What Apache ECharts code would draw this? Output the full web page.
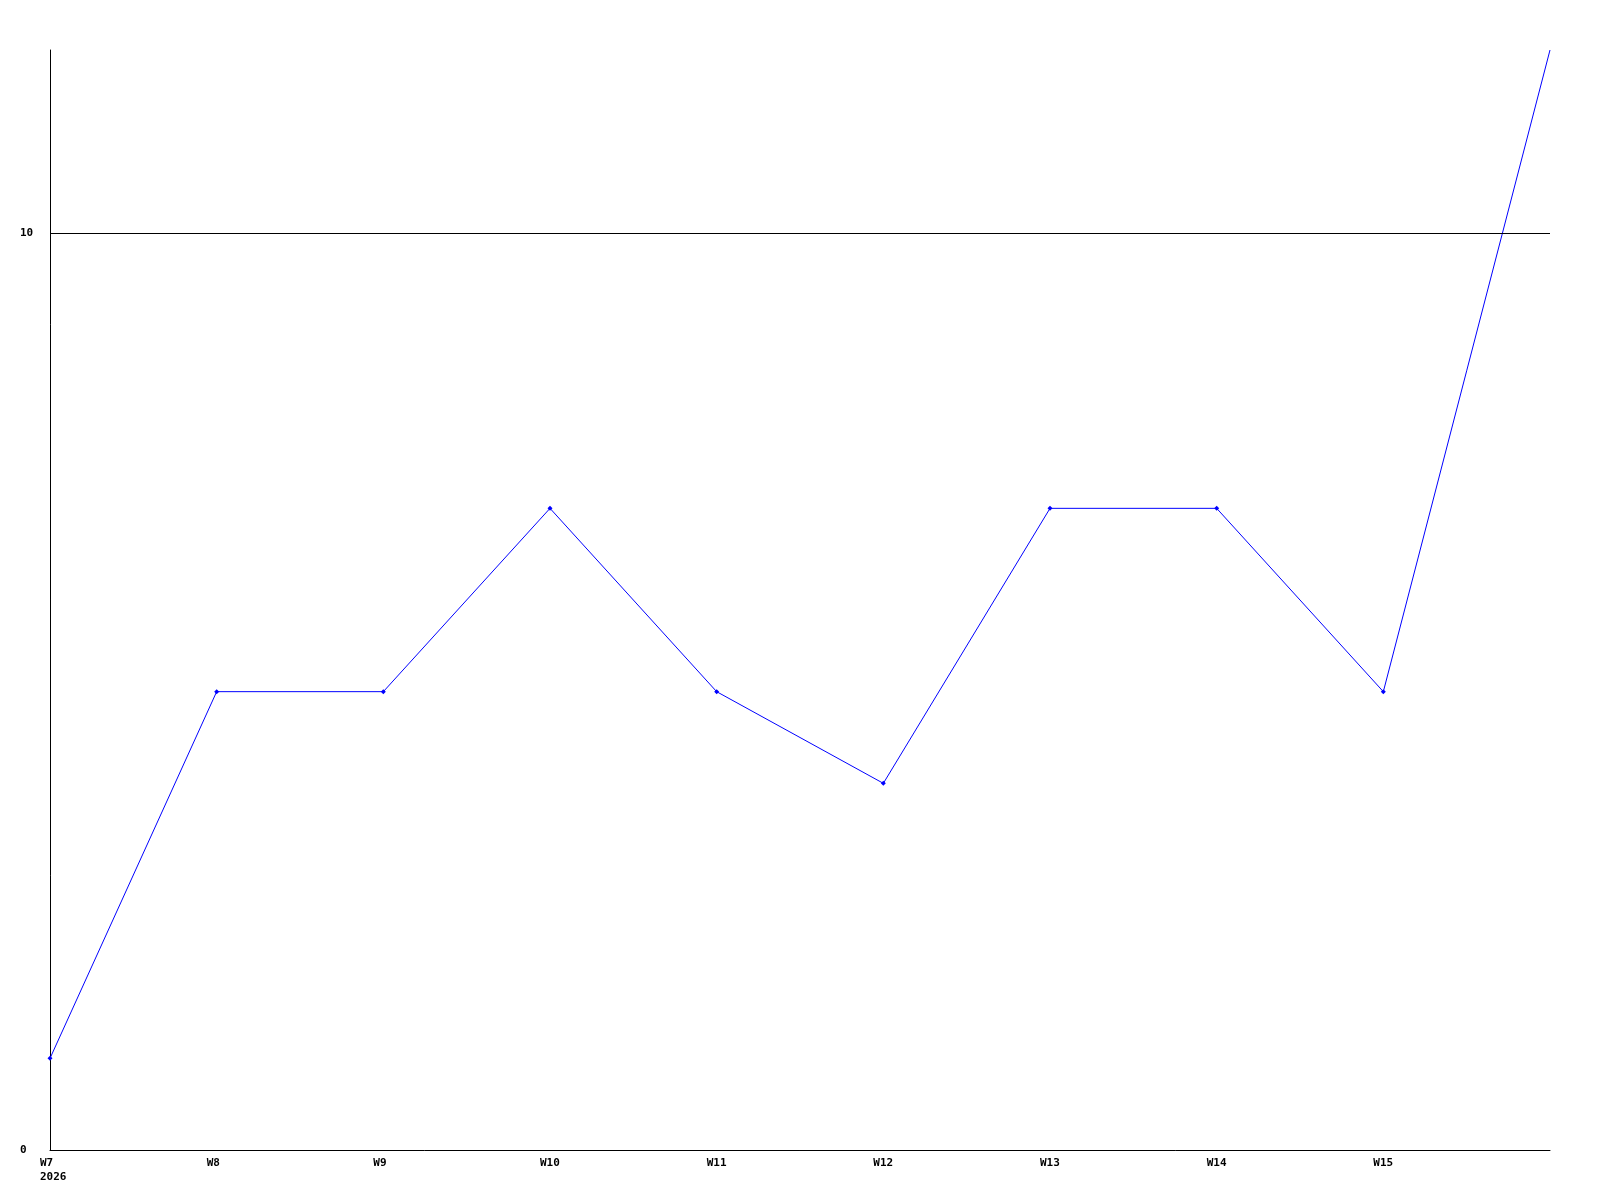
<!DOCTYPE html>
<html>
<head>
<meta charset="utf-8">
<script src="https://cdn.jsdelivr.net/npm/echarts@6/dist/echarts.min.js"></script>
<style>
  html, body { margin: 0; padding: 0; background: #fff; }
  #main { width: 1600px; height: 1200px; }
</style>
</head>
<body>
<div id="main"></div>
<script>
// weekly values
var weeks = ['W7', 'W8', 'W9', 'W10', 'W11', 'W12', 'W13', 'W14', 'W15', 'W16'];
var counts = [1, 5, 5, 7, 5, 4, 7, 7, 5, 12];
var yearLabel = '2026';
var yLabels = [0, 10];
var gridLines = [10];

var chart = echarts.init(document.getElementById('main'));
var labelFont = {
  color: '#000',
  fontFamily: 'DejaVu Sans Mono',
  fontWeight: 'bold',
  fontSize: 11
};

// last week sits on the right edge, no marker there
var seriesData = counts.map(function (v, i) {
  return i === counts.length - 1 ? { value: v, symbol: 'none' } : v;
});

var option = {
  animation: false,
  grid: { left: 50, right: 50, top: 50, bottom: 50 },
  xAxis: {
    type: 'category',
    data: weeks,
    boundaryGap: false,
    axisLine: { lineStyle: { color: '#000', width: 1 } },
    axisTick: { show: false },
    axisLabel: Object.assign({
      interval: 0,
      margin: 6,
      align: 'left',
      padding: [0, 0, 0, -10],
      lineHeight: 14,
      formatter: function (v, i) {
        if (i === weeks.length - 1) return '';
        return i === 0 ? v + '\n' + yearLabel : v;
      }
    }, labelFont),
    splitLine: { show: false }
  },
  yAxis: {
    type: 'value',
    min: 0,
    max: 12,
    interval: 10,
    axisLine: { show: true, lineStyle: { color: '#000', width: 1 } },
    axisTick: { show: false },
    axisLabel: Object.assign({
      margin: 30,
      align: 'left',
      formatter: function (v) {
        return yLabels.indexOf(v) >= 0 ? String(v) : '';
      }
    }, labelFont),
    splitLine: { show: false }
  },
  series: [{
    type: 'line',
    data: seriesData,
    symbol: 'diamond',
    symbolSize: 5,
    showSymbol: true,
    lineStyle: { color: '#0000ff', width: 1 },
    itemStyle: { color: '#0000ff' },
    clip: true,
    markLine: {
      silent: true,
      symbol: 'none',
      label: { show: false },
      lineStyle: { color: '#000', width: 1, type: 'solid' },
      data: gridLines.map(function (g) { return { yAxis: g }; })
    }
  }]
};

chart.setOption(option);
</script>
</body>
</html>
